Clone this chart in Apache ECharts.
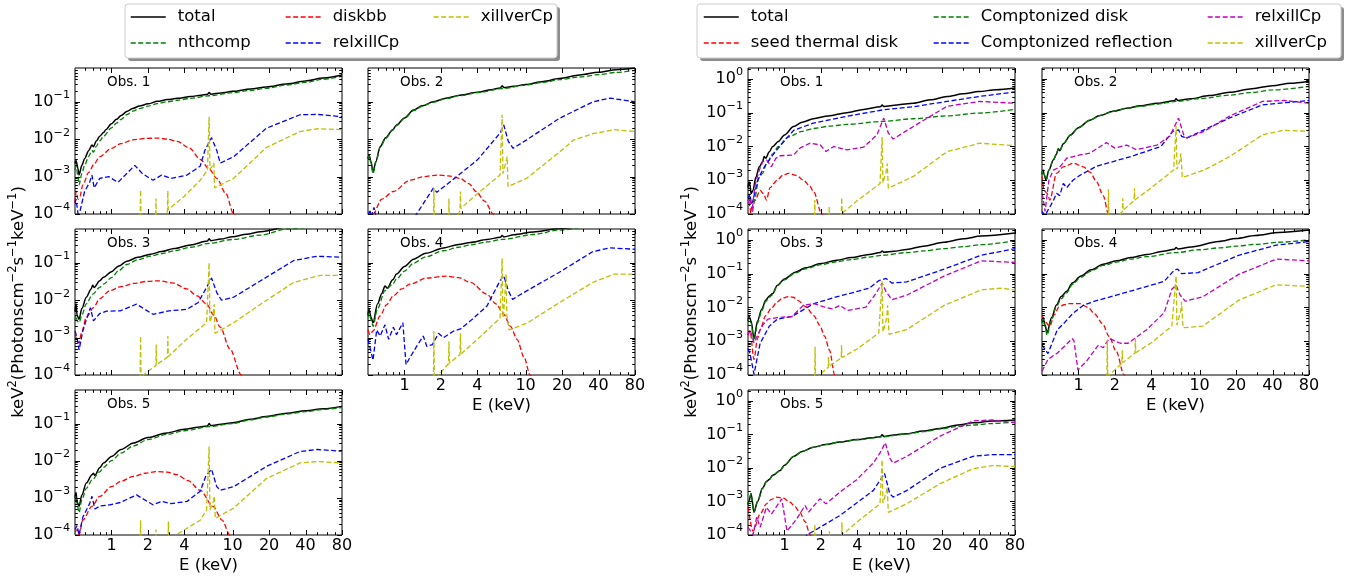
<!DOCTYPE html>
<html>
<head>
<meta charset="utf-8">
<script src="https://cdn.jsdelivr.net/npm/echarts@6/dist/echarts.min.js"></script>
<style>
  html, body { margin: 0; padding: 0; background: #fff; }
  #chart { width: 1346px; height: 580px; }
</style>
</head>
<body>
<div id="chart"></div>
<script>
// ---- axes ----
const E_MIN = 0.5, E_MAX = 80;
const X_TICKS = [1, 2, 4, 10, 20, 40, 80];
const X_MINOR = [0.6, 0.7, 0.8, 0.9, 3, 5, 6, 7, 8, 9, 30, 50, 60, 70];
const Y_MIN = 1e-4;
const Y_MAX_LEFT = 0.8, Y_MAX_RIGHT = 2.1;
const Y_MAJOR = [1e-4, 1e-3, 1e-2, 1e-1, 1];
const Y_MANTISSA = [2, 3, 4, 5, 6, 7, 8, 9];

// ---- left model: total, nthcomp, diskbb, relxillCp, xillverCp  [E (keV), keV^2 flux] ----
const L1_total = [[0.5,2.2e-3],[0.51,2.7e-3],[0.53,1.6e-3],[0.54,1.1e-3],[0.57,2e-3],[0.6,3e-3],[0.65,5e-3],[0.69,7e-3],[0.71,6.3e-3],[0.75,9e-3],[0.8,1.2e-2],[0.86,1.5e-2],[0.9,1.8e-2],[1,2.6e-2],[1.1,3.4e-2],[1.2,4.3e-2],[1.35,5.6e-2],[1.5,6.6e-2],[1.7,7.7e-2],[2,8.8e-2],[2.4,0.103],[2.9,0.115],[3.5,0.124],[4.5,0.138],[5.5,0.15],[6.2,0.158],[6.4,0.178],[6.6,0.16],[8,0.172],[10,0.19],[14,0.22],[19,0.25],[28,0.3],[40,0.36],[56,0.43],[80,0.52]];
const L1_nthcomp = [[0.5,1.5e-3],[0.51,1.9e-3],[0.53,1e-3],[0.54,6e-4],[0.57,1.2e-3],[0.6,2e-3],[0.65,3.5e-3],[0.69,5e-3],[0.71,4.5e-3],[0.75,6.5e-3],[0.8,9e-3],[0.86,1.2e-2],[1,2e-2],[1.1,2.7e-2],[1.2,3.4e-2],[1.35,4.6e-2],[1.5,5.6e-2],[1.7,6.6e-2],[2,7.7e-2],[2.4,8.9e-2],[2.9,0.1],[3.5,0.11],[4.5,0.124],[6.4,0.145],[10,0.175],[14,0.2],[19,0.23],[28,0.28],[40,0.33],[56,0.4],[80,0.48]];
const L1_diskbb = [[0.5,2e-4],[0.51,4e-4],[0.53,2.5e-4],[0.55,3e-4],[0.58,6e-4],[0.65,1.3e-3],[0.72,2.2e-3],[0.8,3.4e-3],[1,5.7e-3],[1.2,7.6e-3],[1.5,9.6e-3],[1.9,1.05e-2],[2.4,1.07e-2],[2.9,1e-2],[3.5,8.7e-3],[4.4,5.8e-3],[5.4,2.9e-3],[6.4,1.6e-3],[7.4,9e-4],[8.8,3.5e-4],[10.2,1e-4],[12,2e-5]];
const L1_relxill = [[0.5,2e-4],[0.51,2.5e-4],[0.53,1e-4],[0.55,1.2e-4],[0.6,4e-4],[0.66,7e-4],[0.69,1.1e-3],[0.72,5e-4],[0.8,9e-4],[0.95,1e-3],[1.13,7e-4],[1.3,1.1e-3],[1.56,2e-3],[1.8,1.2e-3],[2.2,8e-4],[2.6,1.1e-3],[3.1,9e-4],[4.2,1.1e-3],[5.4,1.9e-3],[5.9,5e-3],[6.7,1.1e-2],[7.4,5e-3],[7.9,2.3e-3],[10.2,3.4e-3],[19,1.96e-2],[36,4.5e-2],[50,4.6e-2],[80,4e-2]];
const L1_xillver = [[1.72,3e-5],[1.74,4.4e-4],[1.76,3e-5],[2.31,3e-5],[2.33,2.6e-4],[2.35,3e-5],[2.8,9e-5],[2.9,1.2e-4],[2.92,4.2e-4],[2.94,1.3e-4],[4,3e-4],[5.4,8e-4],[6.2,1.5e-3],[6.4,4e-2],[6.5,1.6e-3],[6.9,2e-3],[7.0,2.3e-3],[7.1,5e-4],[10.2,9e-4],[19,6e-3],[36,1.6e-2],[50,1.9e-2],[80,1.8e-2]];

const L2_total = [[0.5,3e-3],[0.51,3.8e-3],[0.53,2.5e-3],[0.55,1.3e-3],[0.58,2.5e-3],[0.63,6.3e-3],[0.7,1.1e-2],[0.8,1.8e-2],[0.86,2.4e-2],[1,3.7e-2],[1.19,6e-2],[1.4,7.8e-2],[1.73,0.1],[2.2,0.125],[2.87,0.15],[4,0.18],[5.2,0.21],[6.2,0.235],[6.4,0.27],[6.6,0.24],[8,0.26],[10,0.29],[14,0.35],[19,0.42],[28,0.52],[40,0.62],[56,0.72],[80,0.8]];
const L2_nthcomp = [[0.5,3e-3],[0.51,3.6e-3],[0.53,2.3e-3],[0.55,1.2e-3],[0.58,2.4e-3],[0.63,6e-3],[0.7,1.05e-2],[0.8,1.75e-2],[0.86,2.3e-2],[1,3.6e-2],[1.19,5.8e-2],[1.4,7.6e-2],[1.73,9.8e-2],[2.2,0.122],[2.87,0.146],[4,0.175],[6.4,0.225],[10,0.28],[14,0.33],[19,0.39],[28,0.46],[40,0.53],[56,0.61],[80,0.69]];
const L2_diskbb = [[0.52,4e-5],[0.55,1e-4],[0.65,2.5e-4],[0.81,4e-4],[1.11,8e-4],[1.45,1e-3],[1.85,1.1e-3],[2.3,1.05e-3],[2.87,9e-4],[3.4,6.5e-4],[3.9,4e-4],[4.6,2.2e-4],[5.4,1e-4],[6,4e-5]];
const L2_relxill = [[0.5,9e-5],[0.52,1.3e-4],[0.53,8e-5],[0.56,1.5e-4],[0.58,9e-5],[0.62,6e-5],[1,4e-5],[1.26,1e-4],[1.73,4.9e-4],[1.85,3.8e-4],[2.7,1e-3],[4,2.8e-3],[6.15,1.45e-2],[6.6,2.4e-2],[7.2,8.7e-3],[7.9,5.7e-3],[10.2,9.6e-3],[19,3.6e-2],[36,0.1],[50,0.125],[80,0.1]];
const L2_xillver = [[1.73,3e-5],[1.75,4.9e-4],[1.77,3e-5],[2.31,3e-5],[2.33,2.6e-4],[2.35,3e-5],[2.8,1e-4],[2.88,1.3e-4],[2.9,4e-4],[2.92,1.4e-4],[4,3.5e-4],[6.15,1.1e-3],[6.4,4.5e-2],[6.5,1.2e-3],[6.9,2.5e-3],[7.05,3.4e-3],[7.15,5.4e-4],[10.2,9e-4],[19,4.5e-3],[25,9.6e-3],[36,1.4e-2],[54,1.8e-2],[80,1.6e-2]];

const L3_total = [[0.5,5e-3],[0.51,8e-3],[0.52,4e-3],[0.54,3.1e-3],[0.57,6e-3],[0.62,1.2e-2],[0.68,2e-2],[0.7,2.5e-2],[0.72,2.2e-2],[0.8,3.3e-2],[0.86,4.1e-2],[1,5.8e-2],[1.15,8.2e-2],[1.34,0.11],[1.65,0.14],[2.1,0.17],[2.6,0.2],[3.3,0.24],[4.5,0.3],[6.2,0.38],[6.4,0.44],[6.6,0.39],[8,0.43],[10,0.5],[13,0.58],[17,0.68],[30,0.95],[80,1.4]];
const L3_nthcomp = [[0.5,3e-3],[0.51,4e-3],[0.52,2.8e-3],[0.54,2.5e-3],[0.57,4e-3],[0.62,8e-3],[0.7,1.45e-2],[0.8,2.2e-2],[0.86,2.7e-2],[1,4e-2],[1.15,6.2e-2],[1.34,9e-2],[1.65,0.12],[2.1,0.15],[2.6,0.175],[3.3,0.21],[4.5,0.26],[6.4,0.33],[10,0.42],[17,0.55],[28,0.8],[80,1.2]];
const L3_diskbb = [[0.5,1.2e-3],[0.52,9e-4],[0.54,7e-4],[0.57,1.5e-3],[0.62,3.5e-3],[0.71,6.3e-3],[0.8,1.1e-2],[0.97,1.8e-2],[1.2,2.3e-2],[1.52,2.8e-2],[2,3.2e-2],[2.5,3.3e-2],[3.2,2.9e-2],[4.2,2e-2],[5.1,1.3e-2],[6.1,7.9e-3],[7,4e-3],[7.9,1.9e-3],[9.5,5e-4],[11.8,1e-4],[14,3e-5]];
const L3_relxill = [[0.5,1.5e-3],[0.52,1e-3],[0.54,4.7e-4],[0.58,1.5e-3],[0.62,3e-3],[0.67,6.3e-3],[0.71,2.8e-3],[0.8,4.4e-3],[0.91,5.1e-3],[1.18,5.2e-3],[1.61,7.8e-3],[2.2,4.2e-3],[3,5.2e-3],[4.2,5.7e-3],[5.2,8.7e-3],[6.1,2.2e-2],[6.7,3.9e-2],[7.4,1.6e-2],[8.1,1e-2],[10.2,1.2e-2],[17,3.3e-2],[32,0.115],[50,0.15],[80,0.14]];
const L3_xillver = [[1.72,3e-5],[1.74,1.1e-3],[1.76,3e-5],[1.83,1e-4],[2.33,1.8e-4],[2.34,6.5e-4],[2.36,1.9e-4],[2.9,3e-4],[2.92,1.1e-3],[2.94,3.1e-4],[4,8e-4],[6.1,2.5e-3],[6.4,0.1],[6.5,2.6e-3],[6.95,5e-3],[7.05,7.8e-3],[7.15,1.3e-3],[10.2,2.5e-3],[17,7.8e-3],[32,3e-2],[53,4.6e-2],[80,4.6e-2]];

const L4_total = [[0.5,4e-3],[0.51,5.7e-3],[0.53,3.5e-3],[0.55,2.5e-3],[0.6,8e-3],[0.65,1.5e-2],[0.69,2.4e-2],[0.72,2.1e-2],[0.8,3.5e-2],[0.86,5e-2],[1,8e-2],[1.19,0.125],[1.5,0.18],[2.1,0.25],[2.8,0.31],[3.5,0.35],[4.8,0.42],[6.2,0.48],[6.4,0.54],[6.6,0.49],[8,0.56],[11.6,0.67],[19,0.82],[40,1.05],[80,1.3]];
const L4_nthcomp = [[0.5,3.5e-3],[0.51,4.5e-3],[0.53,3e-3],[0.55,2e-3],[0.6,6e-3],[0.69,1.8e-2],[0.8,2.7e-2],[0.86,3.7e-2],[1,6e-2],[1.19,0.098],[1.5,0.145],[2.1,0.21],[2.8,0.26],[3.5,0.3],[4.8,0.36],[6.4,0.42],[11.6,0.57],[19,0.75],[40,1.0],[80,1.25]];
const L4_diskbb = [[0.5,1.6e-3],[0.52,1.2e-3],[0.55,1.5e-3],[0.63,3.8e-3],[0.71,7.5e-3],[0.81,1.31e-2],[0.95,2e-2],[1.11,2.7e-2],[1.53,3.9e-2],[2.2,4.4e-2],[2.8,4e-2],[3.5,3e-2],[4.8,1.45e-2],[5.7,8e-3],[6.6,4.2e-3],[7.5,2e-3],[8.5,9e-4],[9.7,3e-4],[10.9,1e-4],[12.5,3e-5]];
const L4_relxill = [[0.5,9e-4],[0.51,9e-4],[0.55,2.5e-4],[0.59,1.6e-3],[0.63,1.1e-3],[0.69,2.2e-3],[0.74,9e-4],[0.81,1.9e-3],[0.86,1.2e-3],[0.97,2.5e-3],[1.03,1.9e-4],[1.1,2.8e-4],[1.26,5.8e-4],[1.43,1.1e-3],[1.53,5.8e-4],[1.7,6.5e-4],[1.91,1.3e-3],[2.1,1e-3],[2.55,1.5e-3],[2.9,1.7e-3],[3.5,2.8e-3],[4.8,7e-3],[6.15,3.3e-2],[6.6,4.5e-2],[7.2,1.8e-2],[7.8,1.05e-2],[9,1.4e-2],[19,5.6e-2],[36,0.2],[50,0.25],[80,0.23]];
const L4_xillver = [[1.73,3e-5],[1.75,1.5e-3],[1.77,3e-5],[1.91,1e-4],[2.31,2e-4],[2.33,8e-4],[2.35,2.1e-4],[2.87,3.5e-4],[2.9,1.3e-3],[2.92,3.6e-4],[4,9e-4],[6.15,3.3e-3],[6.4,0.13],[6.5,3.4e-3],[6.6,4.7e-3],[6.9,5e-2],[7.0,4e-3],[7.3,1.6e-3],[10.2,2.4e-3],[19,8.6e-3],[36,3e-2],[54,5e-2],[80,5e-2]];

const L5_total = [[0.5,1e-3],[0.51,1.4e-3],[0.52,8e-4],[0.54,5.9e-4],[0.57,1.2e-3],[0.62,2.5e-3],[0.69,4.2e-3],[0.71,4.6e-3],[0.73,4e-3],[0.8,6.5e-3],[0.86,8.7e-3],[1,1.3e-2],[1.2,2e-2],[1.52,3e-2],[2,4.2e-2],[2.86,5.6e-2],[4,7e-2],[5.2,8e-2],[6.2,8.6e-2],[6.4,0.1],[6.6,8.8e-2],[8,9.6e-2],[10,0.105],[14,0.13],[19,0.155],[28,0.19],[40,0.22],[56,0.25],[80,0.29]];
const L5_nthcomp = [[0.5,8e-4],[0.51,1.1e-3],[0.52,7e-4],[0.54,4e-4],[0.57,9e-4],[0.62,1.8e-3],[0.69,3e-3],[0.8,5e-3],[0.86,6.6e-3],[1,1e-2],[1.2,1.6e-2],[1.52,2.5e-2],[2,3.7e-2],[2.86,5.1e-2],[4,6.4e-2],[6.4,8.3e-2],[10,0.1],[14,0.125],[19,0.15],[28,0.18],[40,0.21],[56,0.24],[80,0.27]];
const L5_diskbb = [[0.5,1.2e-4],[0.52,1.4e-4],[0.54,1e-4],[0.58,2.5e-4],[0.69,5.9e-4],[0.8,1.1e-3],[1,2e-3],[1.2,2.8e-3],[1.52,3.8e-3],[1.9,4.6e-3],[2.37,5.1e-3],[2.9,4.9e-3],[3.47,4.2e-3],[4.3,2.9e-3],[5.4,1.6e-3],[6.9,5.9e-4],[8.2,2.5e-4],[9.5,1e-4],[11,3e-5]];
const L5_relxill = [[0.5,1.4e-4],[0.52,1.8e-4],[0.54,1e-4],[0.58,3e-4],[0.66,7e-4],[0.69,1.1e-3],[0.73,5e-4],[0.8,6e-4],[0.97,6.5e-4],[1.18,7.5e-4],[1.61,1.2e-3],[2.2,6.5e-4],[2.6,8e-4],[3.1,7e-4],[4.2,8e-4],[5.4,1.5e-3],[6,3.8e-3],[6.7,5.9e-3],[7.4,2e-3],[7.9,1.6e-3],[10.2,2e-3],[19,7e-3],[36,1.77e-2],[50,2e-2],[80,1.8e-2]];
const L5_xillver = [[1.72,3e-5],[1.74,2.5e-4],[1.76,3e-5],[2.31,3e-5],[2.33,1.4e-4],[2.35,3e-5],[2.93,3e-5],[2.95,2.3e-4],[2.97,3e-5],[3.4,1e-4],[5.4,2.5e-4],[6.1,4.7e-4],[6.4,2.4e-2],[6.5,4.8e-4],[6.95,8e-4],[7.05,1.1e-3],[7.2,2.8e-4],[10.2,5.3e-4],[19,3.3e-3],[36,8.7e-3],[50,9.5e-3],[80,8.7e-3]];

// ---- right model: total, seed thermal disk, Comptonized disk, Comptonized reflection, relxillCp, xillverCp ----
const R1_total = [[0.5,6e-4],[0.51,9e-4],[0.52,7e-4],[0.53,4e-4],[0.55,5e-4],[0.58,1.2e-3],[0.62,2.5e-3],[0.66,3.5e-3],[0.68,5e-3],[0.7,4.5e-3],[0.75,7e-3],[0.8,1e-2],[0.89,1.4e-2],[1,2.2e-2],[1.19,3.9e-2],[1.4,5.2e-2],[1.73,6.6e-2],[2.3,8e-2],[3.27,0.1],[4.5,0.125],[6.2,0.15],[6.4,0.17],[6.6,0.152],[8.5,0.17],[11.6,0.19],[16,0.24],[22,0.3],[30,0.36],[40,0.42],[56,0.48],[80,0.54]];
const R1_seed = [[0.5,4e-4],[0.52,1.5e-4],[0.53,8e-5],[0.57,2.5e-4],[0.63,5e-4],[0.67,4e-4],[0.71,2.6e-4],[0.76,6e-4],[0.87,1e-3],[0.97,1.4e-3],[1.08,1.6e-3],[1.25,1.4e-3],[1.44,1e-3],[1.6,7e-4],[1.74,4.6e-4],[2.03,1e-4],[2.3,2e-5]];
const R1_cdisk = [[0.5,2.5e-4],[0.52,3.5e-4],[0.53,2e-4],[0.56,2.4e-4],[0.62,1.2e-3],[0.66,1.6e-3],[0.71,3e-3],[0.8,6e-3],[0.89,1e-2],[1.07,1.9e-2],[1.4,2.8e-2],[1.73,3.4e-2],[2.4,4e-2],[3.27,4.5e-2],[6.4,5.5e-2],[11.6,6.6e-2],[22,8e-2],[40,0.097],[80,0.125]];
const R1_crefl = [[0.5,3e-4],[0.52,4e-4],[0.53,2e-4],[0.55,2.5e-4],[0.6,1e-3],[0.66,2e-3],[0.71,3.1e-3],[0.8,5.5e-3],[0.89,9e-3],[1.19,3e-2],[1.73,4.9e-2],[3.27,7.8e-2],[6.4,0.12],[11.6,0.15],[22,0.215],[40,0.3],[80,0.41]];
const R1_relxill = [[0.5,2e-4],[0.52,3e-4],[0.54,1.2e-4],[0.57,7e-4],[0.62,2e-3],[0.66,3.5e-3],[0.71,4e-3],[0.78,2.5e-3],[0.85,4.5e-3],[0.92,5.3e-3],[1.19,5.6e-3],[1.34,8.9e-3],[1.63,1.26e-2],[1.98,1.1e-2],[2.2,7.1e-3],[2.56,1e-2],[3.27,7.9e-3],[4.5,9.5e-3],[5.8,2.2e-2],[6.6,6.9e-2],[7.2,2.5e-2],[7.9,1.66e-2],[11.6,3.9e-2],[22,0.155],[41,0.215],[80,0.19]];
const R1_xillver = [[1.76,3e-5],[1.78,2.6e-4],[1.8,3e-5],[2.32,3e-5],[2.34,1.6e-4],[2.36,3e-5],[2.95,1e-4],[2.97,3.1e-4],[2.99,1.05e-4],[4,2.5e-4],[6.15,8e-4],[6.4,1.9e-2],[6.5,8.3e-4],[6.95,2e-3],[7.05,3.1e-3],[7.2,5.8e-4],[11.6,1.3e-3],[22,7e-3],[41,1.25e-2],[80,1.05e-2]];

const R2_total = [[0.5,1.5e-3],[0.51,2e-3],[0.52,1.5e-3],[0.54,1e-3],[0.57,2e-3],[0.62,4e-3],[0.66,6e-3],[0.68,8.5e-3],[0.7,7.5e-3],[0.75,1.2e-2],[0.86,2.2e-2],[1,3.6e-2],[1.24,6e-2],[1.5,8.2e-2],[1.94,0.11],[2.5,0.135],[3.24,0.16],[4.5,0.19],[6.2,0.225],[6.4,0.26],[6.6,0.23],[8.5,0.26],[12,0.32],[17.7,0.4],[26,0.5],[40,0.63],[56,0.74],[80,0.85]];
const R2_seed = [[0.5,1.3e-3],[0.52,5e-4],[0.55,4.1e-4],[0.58,2.6e-4],[0.66,1.6e-3],[0.75,2.5e-3],[0.91,3.2e-3],[1.1,2.5e-3],[1.25,1.7e-3],[1.41,9e-4],[1.6,3.5e-4],[1.77,1e-4],[2,2e-5]];
const R2_cdisk = [[0.5,1.5e-3],[0.51,2e-3],[0.52,1.5e-3],[0.54,1e-3],[0.57,2e-3],[0.62,4e-3],[0.66,6e-3],[0.68,8.5e-3],[0.7,7.5e-3],[0.75,1.2e-2],[0.86,2.2e-2],[1,3.6e-2],[1.24,6e-2],[1.5,8.2e-2],[1.94,0.11],[2.5,0.133],[3.24,0.155],[4.5,0.18],[6.4,0.215],[10,0.26],[17.7,0.33],[26,0.39],[40,0.47],[80,0.6]];
const R2_crefl = [[0.5,1.2e-4],[0.53,9e-5],[0.56,1.3e-4],[0.58,1.6e-4],[0.62,2.5e-4],[0.66,4.1e-4],[0.7,3.5e-4],[0.75,8e-4],[0.8,6e-4],[0.9,1e-3],[1.03,1.4e-3],[1.41,2.6e-3],[2.7,5e-3],[4.8,1e-2],[6,2.8e-2],[6.7,3.1e-2],[7.1,2e-2],[7.8,1.77e-2],[17.7,7e-2],[33,0.17],[80,0.23]];
const R2_relxill = [[0.5,4e-4],[0.51,3e-4],[0.53,1.2e-4],[0.57,1e-3],[0.62,2e-3],[0.66,2.2e-3],[0.71,2.6e-3],[0.8,4.5e-3],[1.03,5.6e-3],[1.24,6.3e-3],[1.7,1.3e-2],[2,8.9e-3],[2.5,1.1e-2],[3,8e-3],[4.45,1.1e-2],[5.7,2.05e-2],[6.7,6.9e-2],[7.4,2.2e-2],[7.8,1.77e-2],[10.9,2.8e-2],[17.7,7.9e-2],[33,0.215],[50,0.23],[80,0.19]];
const R2_xillver = [[1.75,3e-5],[1.77,5.4e-4],[1.79,3e-5],[2.2,1e-4],[2.31,1.2e-4],[2.32,2.9e-4],[2.34,1.3e-4],[2.88,2.5e-4],[2.9,5.8e-4],[2.92,2.6e-4],[4,6e-4],[6.1,2e-3],[6.4,4.1e-2],[6.5,2.1e-3],[6.9,4e-3],[7.0,6.3e-3],[7.2,1.2e-3],[10.9,2e-3],[17.7,5e-3],[33,2.2e-2],[49,3e-2],[80,2.8e-2]];

const R3_total = [[0.5,4e-3],[0.51,5.5e-3],[0.53,4e-3],[0.56,1.2e-3],[0.6,4e-3],[0.65,9e-3],[0.7,1.63e-2],[0.75,2.2e-2],[0.8,2.6e-2],[0.87,4.5e-2],[1,7e-2],[1.23,0.11],[1.5,0.15],[2,0.2],[2.7,0.25],[3.56,0.3],[5,0.37],[6.2,0.42],[6.4,0.47],[6.6,0.43],[8,0.46],[10.2,0.52],[14,0.65],[20.8,0.85],[30,1.08],[42,1.3],[80,1.6]];
const R3_seed = [[0.5,1.5e-3],[0.52,2e-3],[0.56,2.9e-4],[0.6,1.2e-3],[0.63,2.2e-3],[0.7,5.7e-3],[0.78,9.5e-3],[0.87,1.46e-2],[0.97,1.9e-2],[1.07,2.1e-2],[1.18,2e-2],[1.3,1.6e-2],[1.5,1.05e-2],[1.75,5.7e-3],[1.95,3e-3],[2.15,1.4e-3],[2.35,5.5e-4],[2.6,1e-4],[2.9,2e-5]];
const R3_cdisk = [[0.5,4e-3],[0.51,5e-3],[0.53,3.5e-3],[0.56,1e-3],[0.6,3.5e-3],[0.65,8e-3],[0.7,1.5e-2],[0.75,2e-2],[0.8,2.4e-2],[0.87,4.3e-2],[1,6.6e-2],[1.23,0.105],[1.5,0.14],[2,0.185],[2.7,0.225],[3.56,0.26],[5,0.31],[6.4,0.35],[10.2,0.42],[14,0.47],[20.8,0.55],[30,0.63],[42,0.72],[80,0.95]];
const R3_crefl = [[0.5,6e-4],[0.52,4.3e-4],[0.56,1.05e-4],[0.63,8.7e-4],[0.75,2.8e-3],[0.87,4.5e-3],[1.15,5.4e-3],[1.75,1.3e-2],[2.68,2.05e-2],[5,3.7e-2],[6,6.2e-2],[6.9,7.2e-2],[7.7,5.3e-2],[10.2,5.7e-2],[20.8,0.136],[42,0.35],[80,0.55]];
const R3_relxill = [[0.5,1.5e-3],[0.52,2.2e-3],[0.56,9e-4],[0.6,1.5e-3],[0.66,3e-3],[0.73,4.5e-3],[0.87,5e-3],[1.15,5.4e-3],[1.43,1.15e-2],[1.75,1.3e-2],[2.15,1.02e-2],[2.5,9.1e-3],[2.87,1.15e-2],[3.3,8.1e-3],[4.7,1.02e-2],[5.7,2.6e-2],[6.4,5.3e-2],[6.9,2.9e-2],[7.7,1.7e-2],[10.2,2.3e-2],[20.8,8.5e-2],[42,0.24],[80,0.215]];
const R3_xillver = [[1.77,3e-5],[1.79,6.9e-4],[1.81,3e-5],[1.94,1e-4],[2.3,1.7e-4],[2.31,3.4e-4],[2.33,1.8e-4],[2.94,3.2e-4],[2.96,7.7e-4],[2.98,3.3e-4],[4,6e-4],[6,1.75e-3],[6.4,5.9e-2],[6.5,1.9e-3],[6.6,2.2e-3],[7.0,5e-3],[7.1,1.15e-2],[7.3,1.6e-3],[10.2,2.2e-3],[20.8,1.15e-2],[42,3.3e-2],[60,3.7e-2],[80,3.3e-2]];

const R4_total = [[0.5,4e-3],[0.51,5e-3],[0.53,3e-3],[0.55,1.8e-3],[0.6,5e-3],[0.66,1.2e-2],[0.72,2.1e-2],[0.8,3e-2],[0.89,5.3e-2],[1.05,8.5e-2],[1.27,0.13],[1.6,0.19],[2.06,0.24],[2.7,0.3],[3.66,0.37],[5,0.46],[6.2,0.53],[6.4,0.6],[6.6,0.54],[8.5,0.62],[14.4,0.9],[20,1.1],[29,1.35],[45,1.65],[80,1.95]];
const R4_seed = [[0.5,5.7e-3],[0.52,4e-3],[0.58,2.8e-3],[0.63,6e-3],[0.69,1.02e-2],[0.76,1.2e-2],[0.83,1.29e-2],[1.03,1.29e-2],[1.2,1e-2],[1.36,6.4e-3],[1.58,3.3e-3],[1.79,1.4e-3],[2.05,5e-4],[2.38,1e-4],[2.6,2e-5]];
const R4_cdisk = [[0.5,3.5e-3],[0.51,4.5e-3],[0.53,2.7e-3],[0.55,1.5e-3],[0.6,4.5e-3],[0.66,1.1e-2],[0.72,1.8e-2],[0.8,2.7e-2],[0.89,4.8e-2],[1.05,7.8e-2],[1.27,0.12],[1.6,0.175],[2.06,0.22],[2.7,0.27],[3.66,0.32],[6.4,0.42],[10,0.51],[14.4,0.58],[20,0.65],[29,0.74],[45,0.85],[80,1.0]];
const R4_crefl = [[0.5,7.7e-4],[0.56,4.3e-4],[0.67,2.2e-3],[0.77,3.6e-3],[0.89,6.4e-3],[1.09,1.15e-2],[1.36,1.53e-2],[2.57,2.9e-2],[5.1,5.9e-2],[6.2,0.13],[6.6,0.136],[7.1,0.1],[9.7,0.107],[21,0.35],[43,0.7],[80,0.89]];
const R4_relxill = [[0.5,1.3e-4],[0.56,2.9e-4],[0.67,4.5e-4],[0.77,7.2e-4],[0.89,1.2e-3],[0.92,1e-3],[0.99,1.4e-4],[1.18,2.7e-4],[1.46,7.7e-4],[1.6,6.4e-4],[1.79,1.2e-3],[2.22,8.7e-4],[2.57,8.7e-4],[3.66,2.2e-3],[5.1,7e-3],[5.9,3.45e-2],[6.4,4.6e-2],[6.9,2.33e-2],[7.6,1.53e-2],[10.6,2.06e-2],[21,9.5e-2],[43,0.27],[80,0.24]];
const R4_xillver = [[1.71,3e-5],[1.73,1.1e-3],[1.75,3e-5],[1.79,1e-4],[2.28,2.2e-4],[2.3,5.4e-4],[2.32,2.3e-4],[2.93,4.5e-4],[2.95,1.2e-3],[2.97,4.6e-4],[4,9e-4],[5.9,2.8e-3],[6.4,8.5e-2],[6.5,3e-3],[6.6,3.2e-3],[7.0,8e-3],[7.1,1.46e-2],[7.3,2.5e-3],[10.6,2.8e-3],[21,1.63e-2],[43,4.7e-2],[80,4.2e-2]];

const R5_total = [[0.5,8e-4],[0.51,1.05e-3],[0.53,1.7e-3],[0.56,4.8e-4],[0.6,1e-3],[0.66,2.5e-3],[0.71,3.9e-3],[0.75,4.5e-3],[0.8,6e-3],[0.92,8.3e-3],[1,1.2e-2],[1.19,2.2e-2],[1.4,3.1e-2],[1.73,4.1e-2],[2.2,5e-2],[2.87,5.9e-2],[4,7e-2],[5.2,7.9e-2],[6.2,8.5e-2],[6.4,9.8e-2],[6.6,8.7e-2],[8,9.6e-2],[10.2,0.105],[14,0.125],[19.3,0.15],[27,0.19],[36,0.22],[52,0.25],[80,0.27]];
const R5_seed = [[0.5,6.8e-4],[0.55,1.3e-4],[0.63,4.2e-4],[0.71,8.5e-4],[0.78,1.15e-3],[0.86,1.35e-3],[0.98,1.25e-3],[1.11,9.5e-4],[1.22,7e-4],[1.34,4.7e-4],[1.48,2.5e-4],[1.63,1e-4],[1.8,2e-5]];
const R5_cdisk = [[0.5,8e-4],[0.51,1.05e-3],[0.53,1.7e-3],[0.56,4.8e-4],[0.6,1e-3],[0.66,2.5e-3],[0.71,3.9e-3],[0.75,4.5e-3],[0.8,6e-3],[0.92,8.3e-3],[1,1.2e-2],[1.19,2.2e-2],[1.4,3.1e-2],[1.73,4.1e-2],[2.2,5e-2],[2.87,5.9e-2],[4,6.9e-2],[6.4,8.4e-2],[10.2,0.102],[14,0.12],[19.3,0.145],[27,0.17],[36,0.19],[52,0.21],[80,0.235]];
const R5_crefl = [[1.3,3e-5],[1.53,1e-4],[2.87,3.8e-4],[5.4,2.1e-3],[6.15,4.3e-3],[6.7,6.9e-3],[7.4,1.7e-3],[7.9,1.35e-3],[10.2,2.1e-3],[19.3,9.8e-3],[36,2.22e-2],[52,2.5e-2],[80,2.5e-2]];
const R5_relxill = [[0.5,1.7e-4],[0.55,1e-4],[0.59,3.4e-4],[0.63,1.7e-4],[0.71,6.7e-4],[0.78,4.2e-4],[0.95,1.2e-3],[1.05,1.3e-4],[1.26,3e-4],[1.48,7.6e-4],[1.58,4.8e-4],[1.96,1.2e-3],[2.2,8.5e-4],[2.87,1.9e-3],[3.9,4.3e-3],[5.4,1.39e-2],[6.15,2.8e-2],[6.8,5.6e-2],[7.4,1.95e-2],[7.9,1.39e-2],[10.2,2.2e-2],[19.3,8.9e-2],[36,0.25],[52,0.27],[80,0.22]];
const R5_xillver = [[1.76,3e-5],[1.78,2.1e-4],[1.8,3e-5],[2.33,3e-5],[2.35,1.3e-4],[2.37,3e-5],[2.96,3e-5],[2.98,2.4e-4],[3.0,1e-4],[4,2.5e-4],[6.15,8.5e-4],[6.4,1.75e-2],[6.5,9e-4],[6.6,1.07e-3],[6.95,2e-3],[7.05,2.7e-3],[7.2,4.7e-4],[10.2,8.5e-4],[19.3,3.4e-3],[36,9.5e-3],[52,1.17e-2],[80,1.1e-2]];

// ---- styling & layout ----
const FONT = 'DejaVu Sans';
const DASH = [5, 2.5];
const PANEL_W = 267;
const ROWS = [[68, 146], [229, 146], [390, 145]];
const Y_NAME = '{b|keV}{s|2}{b|(Photonscm}{s|−2}{b|s}{s|−1}{b|keV}{s|−1}{b|)}';

const LEFT_GROUP = {
  cols: [75, 368],
  yMax: Y_MAX_LEFT,
  names: ['total', 'nthcomp', 'diskbb', 'relxillCp', 'xillverCp'],
  colors: ['#000000', '#008000', '#ff0000', '#0000ff', '#bfbf00'],
  smooth: [true, true, true, false, false],
  panels: [
    ['Obs. 1', [L1_total, L1_nthcomp, L1_diskbb, L1_relxill, L1_xillver]],
    ['Obs. 2', [L2_total, L2_nthcomp, L2_diskbb, L2_relxill, L2_xillver]],
    ['Obs. 3', [L3_total, L3_nthcomp, L3_diskbb, L3_relxill, L3_xillver]],
    ['Obs. 4', [L4_total, L4_nthcomp, L4_diskbb, L4_relxill, L4_xillver]],
    ['Obs. 5', [L5_total, L5_nthcomp, L5_diskbb, L5_relxill, L5_xillver]]
  ],
  legendCols: [[130, [0, 1]], [285, [2, 3]], [433, [4]]],
  box: [125, 4, 432, 54]
};
const RIGHT_GROUP = {
  cols: [748, 1042],
  yMax: Y_MAX_RIGHT,
  names: ['total', 'seed thermal disk', 'Comptonized disk', 'Comptonized reflection', 'relxillCp', 'xillverCp'],
  colors: ['#000000', '#ff0000', '#008000', '#0000ff', '#bf00bf', '#bfbf00'],
  smooth: [true, true, true, false, false, false],
  panels: [
    ['Obs. 1', [R1_total, R1_seed, R1_cdisk, R1_crefl, R1_relxill, R1_xillver]],
    ['Obs. 2', [R2_total, R2_seed, R2_cdisk, R2_crefl, R2_relxill, R2_xillver]],
    ['Obs. 3', [R3_total, R3_seed, R3_cdisk, R3_crefl, R3_relxill, R3_xillver]],
    ['Obs. 4', [R4_total, R4_seed, R4_cdisk, R4_crefl, R4_relxill, R4_xillver]],
    ['Obs. 5', [R5_total, R5_seed, R5_cdisk, R5_crefl, R5_relxill, R5_xillver]]
  ],
  legendCols: [[703, [0, 1]], [933, [2, 3]], [1207, [4, 5]]],
  box: [697, 4, 644, 54]
};

const txt = (size) => ({ fontFamily: FONT, fontSize: size, color: '#000' });
const RICH_TICK = {
  b: { fontFamily: FONT, fontSize: 16, color: '#000', lineHeight: 24 },
  s: { fontFamily: FONT, fontSize: 11.2, color: '#000', lineHeight: 14, verticalAlign: 'top' }
};
const RICH_NAME = {
  b: { fontFamily: FONT, fontSize: 16.5, color: '#000', lineHeight: 24 },
  s: { fontFamily: FONT, fontSize: 11.5, color: '#000', lineHeight: 14, verticalAlign: 'top' }
};
function powerLabel(v) {
  const n = Math.round(Math.log10(v));
  return '{b|10}{s|' + (n < 0 ? '−' : '') + Math.abs(n) + '}';
}

// tick marks on all four sides: kind 0/1 = x minor/major, 2/3 = y minor/major
function tickData(yMax) {
  const d = [];
  X_TICKS.forEach(v => d.push([v, 1e-2, 1]));
  X_MINOR.forEach(v => d.push([v, 1e-2, 0]));
  Y_MAJOR.filter(v => v <= yMax).forEach(v => d.push([1, v, 3]));
  Y_MAJOR.forEach(dec => Y_MANTISSA.forEach(m => { if (m * dec < yMax) d.push([1, m * dec, 2]); }));
  return d;
}
function renderTicks(params, api) {
  const cs = params.coordSys;
  const kind = api.value(2);
  const p = api.coord([api.value(0), api.value(1)]);
  const len = (kind === 1 || kind === 3) ? 5 : 2.8;
  const st = { stroke: '#000', lineWidth: 1 };
  if (kind < 2) {
    const x = Math.round(p[0]) + 0.5, yb = cs.y + cs.height, yt = cs.y;
    return { type: 'group', children: [
      { type: 'line', shape: { x1: x, y1: yb, x2: x, y2: yb - len }, style: st },
      { type: 'line', shape: { x1: x, y1: yt, x2: x, y2: yt + len }, style: st }
    ] };
  }
  const y = Math.round(p[1]) + 0.5, xl = cs.x, xr = cs.x + cs.width;
  return { type: 'group', children: [
    { type: 'line', shape: { x1: xl, y1: y, x2: xl + len, y2: y }, style: st },
    { type: 'line', shape: { x1: xr, y1: y, x2: xr - len, y2: y }, style: st }
  ] };
}

const option = {
  animation: false,
  backgroundColor: '#fff',
  grid: [], xAxis: [], yAxis: [], series: [], title: [], legend: [], graphic: []
};

function addGroup(g) {
  g.panels.forEach(([title, curves], i) => {
    const r = Math.floor(i / 2), c = i % 2;
    const gi = option.grid.length;
    const left = g.cols[c], top = ROWS[r][0], h = ROWS[r][1];
    const bottomRow = (i === 3 || i === 4);
    option.grid.push({ left, top, width: PANEL_W, height: h, show: true,
      borderColor: '#000', borderWidth: 1, backgroundColor: 'transparent' });
    option.xAxis.push({
      type: 'log', gridIndex: gi, min: E_MIN, max: E_MAX,
      axisLine: { show: false }, axisTick: { show: false }, splitLine: { show: false },
      axisLabel: { show: bottomRow, customValues: X_TICKS, formatter: v => String(v), margin: 3, ...txt(16) },
      name: bottomRow ? 'E (keV)' : '', nameLocation: 'middle', nameGap: 22, nameTextStyle: txt(16.5)
    });
    option.yAxis.push({
      type: 'log', gridIndex: gi, min: Y_MIN, max: g.yMax,
      axisLine: { show: false }, axisTick: { show: false }, splitLine: { show: false },
      axisLabel: { show: c === 0, showMaxLabel: false, margin: 5, formatter: powerLabel, rich: RICH_TICK },
      name: i === 2 ? Y_NAME : '', nameLocation: 'middle', nameRotate: 90, nameGap: 44,
      nameTextStyle: { rich: RICH_NAME }
    });
    option.title.push({ text: title, left: left + 32, top: top + 7, padding: 0,
      textStyle: { ...txt(13.5), fontWeight: 'normal' } });
    curves.forEach((data, k) => {
      option.series.push({
        type: 'line', name: g.names[k], xAxisIndex: gi, yAxisIndex: gi, data,
        symbol: 'none', showSymbol: false, clip: true, silent: true,
        smooth: g.smooth[k] ? 0.3 : false, smoothMonotone: 'x',
        lineStyle: { color: g.colors[k], width: k === 0 ? 1.5 : 1.3, type: k === 0 ? 'solid' : DASH },
        itemStyle: { color: g.colors[k] }, z: 2
      });
    });
    option.series.push({
      type: 'custom', xAxisIndex: gi, yAxisIndex: gi, data: tickData(g.yMax),
      encode: { x: 0, y: 1 }, renderItem: renderTicks, clip: false, silent: true, z: 10
    });
  });

  // legend frame with offset shadow
  const [bx, by, bw, bh] = g.box;
  option.graphic.push({ type: 'rect', z: 0, silent: true, shape: { x: bx + 3, y: by + 3, width: bw, height: bh, r: 3 },
    style: { fill: 'rgba(0,0,0,0.45)' } });
  option.graphic.push({ type: 'rect', z: 1, silent: true, shape: { x: bx, y: by, width: bw, height: bh, r: 3 },
    style: { fill: '#fff', stroke: '#cccccc', lineWidth: 1 } });

  g.legendCols.forEach(([lx, idx]) => {
    option.legend.push({
      left: lx, top: 7, orient: 'vertical', itemGap: 6, itemWidth: 35, itemHeight: 14,
      selectedMode: false, padding: 0, z: 5,
      itemStyle: { color: 'rgba(0,0,0,0)', borderWidth: 0, opacity: 0 },
      textStyle: { ...txt(16.5), lineHeight: 20, padding: [0, 0, 0, 7] },
      data: idx.map(k => ({
        name: g.names[k],
        itemStyle: { color: 'rgba(0,0,0,0)', borderWidth: 0, opacity: 0 },
        lineStyle: { color: g.colors[k], width: k === 0 ? 1.5 : 1.3, type: k === 0 ? 'solid' : DASH, opacity: 1 }
      }))
    });
  });
}

addGroup(LEFT_GROUP);
addGroup(RIGHT_GROUP);

const chart = echarts.init(document.getElementById('chart'), null, { renderer: 'canvas' });
chart.setOption(option);
</script>
</body>
</html>
